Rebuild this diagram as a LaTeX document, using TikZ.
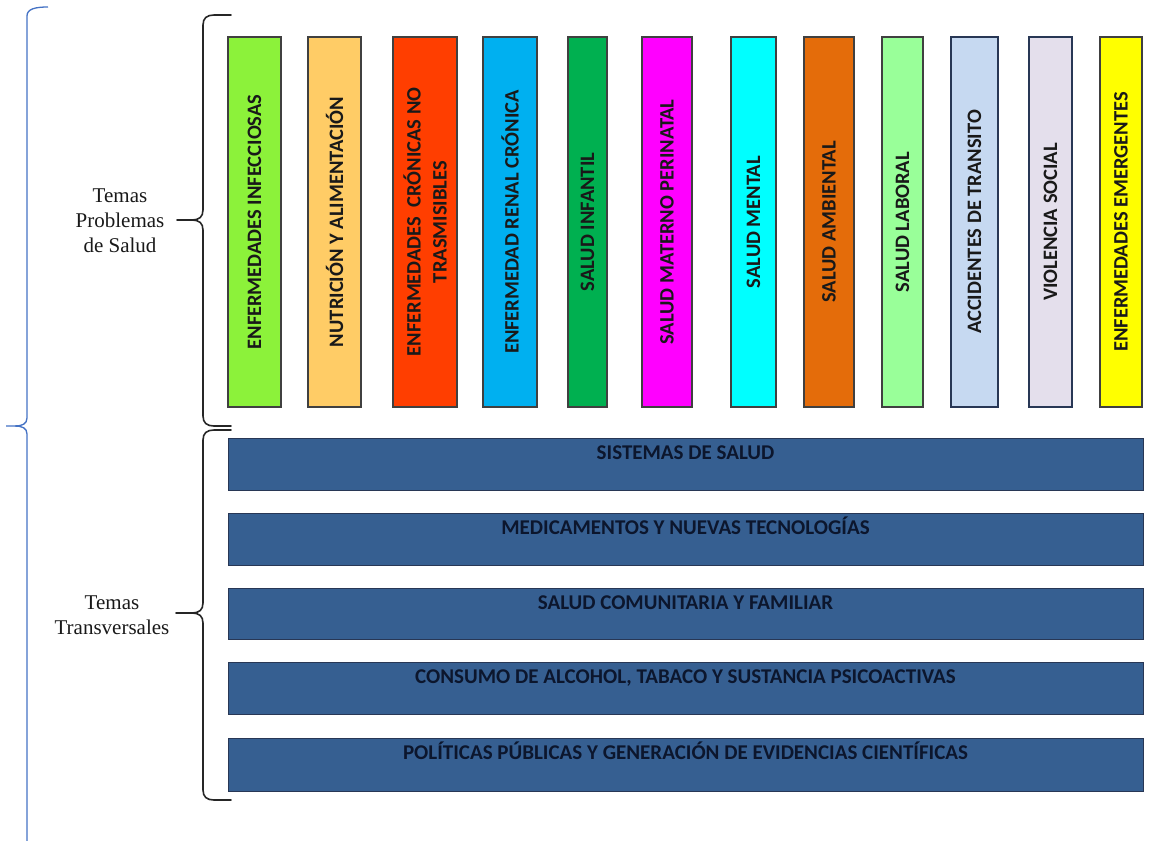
\documentclass[tikz,border=0pt]{standalone}
\usepackage{fontspec}
\setmainfont{Liberation Serif}
\newfontfamily\calib{Carlito}
\usetikzlibrary{positioning}

\definecolor{colInfec}{RGB}{140,242,58}
\definecolor{colNutri}{RGB}{255,204,102}
\definecolor{colCron}{RGB}{255,62,0}
\definecolor{colRenal}{RGB}{0,176,240}
\definecolor{colInfant}{RGB}{0,176,80}
\definecolor{colMater}{RGB}{255,0,255}
\definecolor{colMental}{RGB}{0,255,255}
\definecolor{colAmbi}{RGB}{228,108,10}
\definecolor{colLabor}{RGB}{153,255,153}
\definecolor{colAccid}{RGB}{198,217,241}
\definecolor{colViol}{RGB}{228,223,236}
\definecolor{colEmerg}{RGB}{255,255,0}
\definecolor{barblue}{RGB}{54,95,145}
\definecolor{barline}{RGB}{40,55,85}
\definecolor{bartxt}{RGB}{12,22,45}
\definecolor{bracketblue}{RGB}{68,114,196}

\begin{document}
\begin{tikzpicture}[x=1pt,y=-1pt]
    \tikzset{column/.style={
        draw=black!75, line width=1.2pt, rotate=90, inner sep=0pt, outer sep=0pt,
        minimum width=370pt, align=center, text=black!90,
        font=\calib\bfseries\fontsize{20.5}{26}\selectfont
      },
      bar/.style={
        draw=barline, line width=1pt, fill=barblue, inner sep=0pt, outer sep=0pt,
        minimum width=915pt
      },
      bartext/.style={
        anchor=north, inner sep=0pt, yshift=-6.5pt, text height=14.5pt, text depth=3pt,
        text=bartxt, font=\calib\bfseries\fontsize{21}{25}\selectfont
      },
      bracket/.style={line width=1.6pt, black!85, line cap=round},
      tema/.style={align=center, font=\fontsize{21}{25}\selectfont, text=black!90}
    }

    \useasboundingbox (0,0) rectangle (1152,841);

    % temas problemas de salud
    \node[column, fill=colInfec,  minimum height=53pt] (infec)  at (254.5,222) {ENFERMEDADES INFECCIOSAS};
    \node[column, fill=colNutri,  minimum height=53pt] (nutri)  at (334.5,222) {NUTRICIÓN Y ALIMENTACIÓN};
    \node[column, fill=colCron,   minimum height=64pt] (cron)   at (425,222)   {ENFERMEDADES \ CRÓNICAS NO\\TRASMISIBLES};
    \node[column, fill=colRenal,  minimum height=54pt] (renal)  at (510,222)   {ENFERMEDAD RENAL CRÓNICA};
    \node[column, fill=colInfant, minimum height=39pt] (infant) at (587.5,222) {SALUD INFANTIL};
    \node[column, fill=colMater,  minimum height=50pt] (mater)  at (667,222)   {SALUD MATERNO PERINATAL};
    \node[column, fill=colMental, minimum height=45pt] (mental) at (753.5,222) {SALUD MENTAL};
    \node[column, fill=colAmbi,   minimum height=50pt] (ambi)   at (829,222)   {SALUD AMBIENTAL};
    \node[column, fill=colLabor,  minimum height=41pt] (labor)  at (902.5,222) {SALUD LABORAL};
    \node[column, fill=colAccid,  minimum height=47pt, draw=barline] (accid)  at (974.5,222) {ACCIDENTES DE TRANSITO};
    \node[column, fill=colViol,   minimum height=43pt, draw=barline] (viol)   at (1050.5,222) {VIOLENCIA SOCIAL};
    \node[column, fill=colEmerg,  minimum height=42pt] (emerg)  at (1121,222)  {ENFERMEDADES EMERGENTES};

    % temas transversales
    \node[bar, minimum height=52pt] (sist)  at (685.5,464)   {};
    \node[bar, minimum height=52pt] (medic) at (685.5,539)   {};
    \node[bar, minimum height=51pt] (comun) at (685.5,613.5) {};
    \node[bar, minimum height=52pt] (consu) at (685.5,688)   {};
    \node[bar, minimum height=53pt] (polit) at (685.5,764.5) {};

    \node[bartext] (sistT)  at (sist.north)  {SISTEMAS DE SALUD};
    \node[bartext] (medicT) at (medic.north) {MEDICAMENTOS Y NUEVAS TECNOLOGÍAS};
    \node[bartext] (comunT) at (comun.north) {SALUD COMUNITARIA Y FAMILIAR};
    \node[bartext] (consuT) at (consu.north) {CONSUMO DE ALCOHOL, TABACO Y SUSTANCIA PSICOACTIVAS};
    \node[bartext] (politT) at (polit.north) {POLÍTICAS PÚBLICAS Y GENERACIÓN DE EVIDENCIAS CIENTÍFICAS};

    % llaves
    \draw[bracket] (231,15) -- (214,15) .. controls (207,15) and (203,18) .. (203,25) -- (203,210)
      .. controls (203,217) and (199,220) .. (192,220) -- (177,220);
    \draw[bracket] (192,220) .. controls (199,220) and (203,223) .. (203,230) -- (203,416)
      .. controls (203,423) and (207,426) .. (214,426) -- (231,426);

    \draw[bracket] (231,430) -- (214,430) .. controls (207,430) and (203,433) .. (203,440) -- (203,603)
      .. controls (203,610) and (199,613) .. (192,613) -- (176,613);
    \draw[bracket] (192,613) .. controls (199,613) and (203,616) .. (203,623) -- (203,790)
      .. controls (203,797) and (207,800) .. (214,800) -- (231,800);

    \draw[bracketblue, line width=1.3pt] (48,7) .. controls (35,7) and (27,9) .. (27,16) -- (27,418)
      .. controls (27,424) and (22,426) .. (15,426) -- (6,426);
    \draw[bracketblue, line width=1.3pt] (15,426) .. controls (22,426) and (27,428) .. (27,434) -- (27,841);

    \node[tema] (problemas) at (120,221) {Temas\\Problemas\\de Salud};
    \node[tema] (transv) at (112,615.5) {Temas\\Transversales};
  \end{tikzpicture}
\end{document}
